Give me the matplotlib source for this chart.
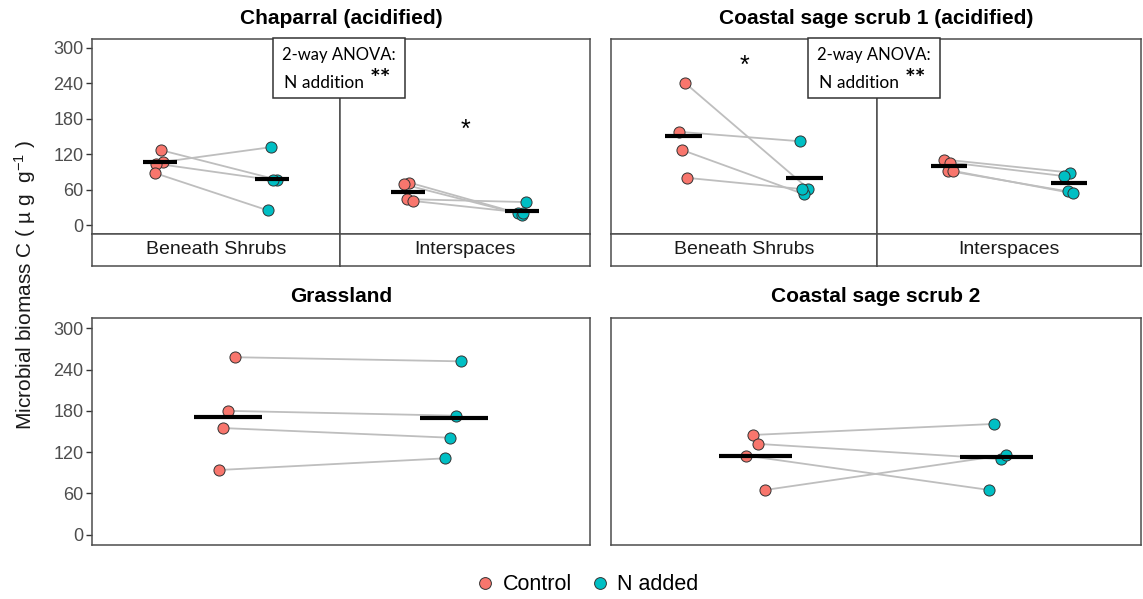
import numpy as np
import matplotlib.pyplot as plt
from matplotlib.lines import Line2D
from matplotlib.patches import Rectangle

plt.rcParams['font.family'] = ['Liberation Sans', 'DejaVu Sans']
plt.rcParams['mathtext.fontset'] = 'custom'
plt.rcParams['mathtext.rm'] = 'Liberation Sans'
plt.rcParams['mathtext.it'] = 'Liberation Sans:italic'
plt.rcParams['mathtext.default'] = 'regular'

# ---- data (microbial biomass C, paired plots: control -> N added) ----
groups = ['Control', 'N added']
habitats = ['Beneath Shrubs', 'Interspaces']
yticks = [0, 60, 120, 180, 240, 300]

chap_bs_control = [127, 107, 104, 88]
chap_bs_nadded = [77, 132, 76, 25]
chap_is_control = [72, 69, 44, 41]
chap_is_nadded = [20, 18, 39, 21]

css1_bs_control = [241, 158, 127, 80]
css1_bs_nadded = [62, 142, 52, 61]
css1_is_control = [111, 106, 92, 92]
css1_is_nadded = [89, 83, 57, 54]

grass_control = [258, 180, 155, 94]
grass_nadded = [252, 173, 141, 111]

css2_control = [145, 132, 115, 65]
css2_nadded = [161, 110, 65, 116]

# small horizontal jitter
jit = {
    'chap_bs': ([0.01, 0.03, -0.03, -0.04], [0.04, -0.01, 0.01, -0.04]),
    'chap_is': ([0.01, -0.04, -0.01, 0.04], [-0.03, 0.0, 0.04, 0.01]),
    'css1_bs': ([0.01, -0.04, -0.01, 0.03], [0.03, -0.04, 0.0, -0.02]),
    'css1_is': ([-0.04, 0.01, -0.01, 0.03], [0.01, -0.04, -0.01, 0.03]),
    'grass': ([0.03, 0.0, -0.02, -0.04], [0.03, 0.01, -0.02, -0.04]),
    'css2': ([-0.01, 0.01, -0.04, 0.04], [-0.01, 0.02, -0.03, 0.04]),
}

RED = '#F8766D'
CYAN = '#00BFC4'
W, H = 1143, 599

fig = plt.figure(figsize=(W / 100, H / 100), dpi=100)


def px_axes(x0, y0, x1, y1):
    return fig.add_axes([x0 / W, 1 - y1 / H, (x1 - x0) / W, (y1 - y0) / H])


def style(ax, show_y):
    ax.set_xlim(0.4, 2.6)
    ax.set_ylim(-15, 315)
    ax.set_xticks([])
    for s in ax.spines.values():
        s.set_color('#4D4D4D')
        s.set_linewidth(1.1)
    if show_y:
        ax.set_yticks(yticks)
        ax.tick_params(axis='y', length=4.5, width=1, color='#333333',
                       labelcolor='#4D4D4D', labelsize=13, pad=1.5)
    else:
        ax.set_yticks([])


def draw_pairs(ax, ctrl, nadd, key):
    jc, jn = jit[key]
    xc = 1 + np.array(jc)
    xn = 2 + np.array(jn)
    for a, b, c, d in zip(xc, xn, ctrl, nadd):
        ax.plot([a, b], [c, d], color='#BEBEBE', lw=1.3, zorder=1)
    ax.scatter(xc, ctrl, s=64, color=RED, edgecolor='#333333', linewidth=0.7, zorder=3)
    ax.scatter(xn, nadd, s=64, color=CYAN, edgecolor='#333333', linewidth=0.7, zorder=3)
    for x, v in ((1, ctrl), (2, nadd)):
        m = np.mean(v)
        ax.plot([x - 0.15, x + 0.15], [m, m], color='black', lw=3,
                solid_capstyle='butt', zorder=4)


def strip(x0, x1, label):
    sa = px_axes(x0, 234, x1, 266)
    sa.set_xticks([])
    sa.set_yticks([])
    for s in sa.spines.values():
        s.set_color('#4D4D4D')
        s.set_linewidth(1.1)
    sa.text(0.5, 0.5, label, ha='center', va='center', fontsize=14,
            color='#1A1A1A', transform=sa.transAxes)


def anova_box(x0, x1):
    y0, y1 = 38, 98
    fig.add_artist(Rectangle((x0 / W, 1 - y1 / H), (x1 - x0) / W, (y1 - y0) / H,
                             transform=fig.transFigure, facecolor='white',
                             edgecolor='#333333', lw=1.1, zorder=5))
    fig.text((x0 + x1) / 2 / W, 1 - 55 / H, '2-way ANOVA:', ha='center', va='center',
             fontsize=12, family='Lato', zorder=6)
    fig.text((x0 + 11) / W, 1 - 83 / H, 'N addition', ha='left', va='center',
             fontsize=12.5, family='Lato', zorder=6)
    fig.text((x0 + 107) / W, 1 - 80 / H, '**', ha='center', va='center',
             fontsize=18, fontweight='bold', family='Lato', zorder=6)


# ---- top left: Chaparral ----
ax = px_axes(92, 39, 340, 234)
style(ax, True)
draw_pairs(ax, chap_bs_control, chap_bs_nadded, 'chap_bs')
ax = px_axes(340, 39, 590, 234)
style(ax, False)
draw_pairs(ax, chap_is_control, chap_is_nadded, 'chap_is')
ax.text(1.5, 162, '*', ha='center', va='center', fontsize=18)
strip(92, 340, habitats[0])
strip(340, 590, habitats[1])
fig.text(341 / W, 1 - 18 / H, 'Chaparral (acidified)', ha='center', va='center',
         fontsize=15, fontweight='bold')
anova_box(273, 405)

# ---- top right: Coastal sage scrub 1 ----
ax = px_axes(611, 39, 877, 234)
style(ax, False)
draw_pairs(ax, css1_bs_control, css1_bs_nadded, 'css1_bs')
ax.text(1.5, 270, '*', ha='center', va='center', fontsize=18)
ax = px_axes(877, 39, 1141, 234)
style(ax, False)
draw_pairs(ax, css1_is_control, css1_is_nadded, 'css1_is')
strip(611, 877, habitats[0])
strip(877, 1141, habitats[1])
fig.text(876 / W, 1 - 18 / H, 'Coastal sage scrub 1 (acidified)', ha='center',
         va='center', fontsize=15, fontweight='bold')
anova_box(808, 940)

# ---- bottom left: Grassland ----
ax = px_axes(92, 318, 590, 545)
style(ax, True)
draw_pairs(ax, grass_control, grass_nadded, 'grass')
fig.text(341 / W, 1 - 297 / H, 'Grassland', ha='center', va='center',
         fontsize=15, fontweight='bold')

# ---- bottom right: Coastal sage scrub 2 ----
ax = px_axes(611, 318, 1141, 545)
style(ax, False)
draw_pairs(ax, css2_control, css2_nadded, 'css2')
fig.text(876 / W, 1 - 297 / H, 'Coastal sage scrub 2', ha='center', va='center',
         fontsize=15, fontweight='bold')

# y label
fig.text(25 / W, 1 - 285 / H, 'Microbial biomass C ( µ g  g$^{-1}$ )', rotation=90,
         ha='center', va='center', fontsize=15, color='#1A1A1A')

# legend
handles = [Line2D([], [], ls='none', marker='o', ms=8.5, mfc=c, mec='#333333',
                  mew=0.7, label=g) for g, c in zip(groups, [RED, CYAN])]
fig.legend(handles=handles, loc='center', bbox_to_anchor=(0.513, 1 - 585 / H),
           ncol=2, frameon=False, fontsize=15.5, handletextpad=0.3,
           columnspacing=0.8, handlelength=1.0)

fig.savefig('out.png', dpi=100)
